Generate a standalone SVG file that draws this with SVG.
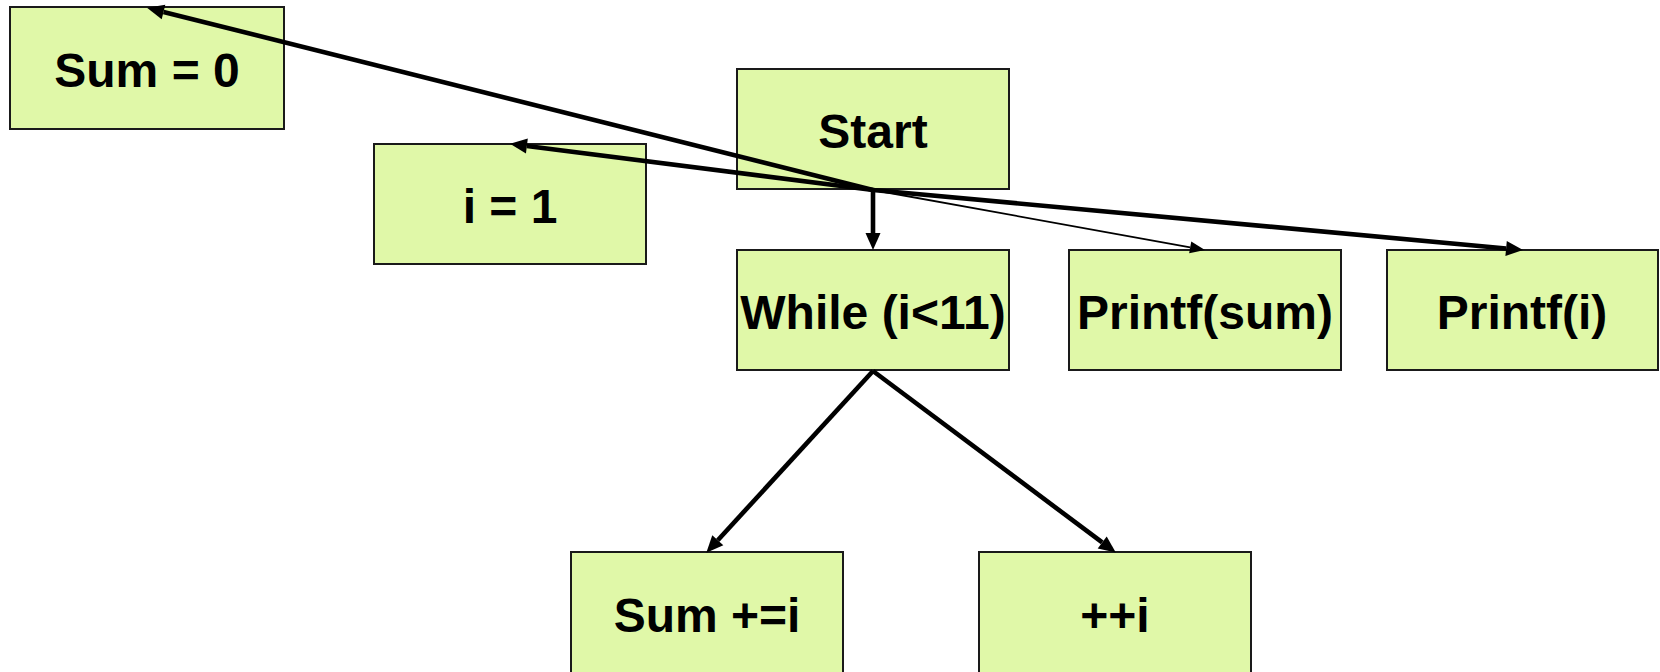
<svg xmlns="http://www.w3.org/2000/svg" width="1660" height="672" viewBox="0 0 1660 672">
<style>
.box{fill:#E0F8A8;stroke:#1a1a1a;stroke-width:2}
.lbl{font-family:"Liberation Sans",Arial,sans-serif;font-weight:bold;font-size:48px;fill:#000;text-anchor:middle}
.thick{stroke:#000;stroke-width:4.6;fill:none;marker-end:url(#ah)}
.thin{stroke:#000;stroke-width:1.8;fill:none;marker-end:url(#ahs)}
</style>
<defs>
<marker id="ah" markerUnits="userSpaceOnUse" markerWidth="17" markerHeight="15" refX="0" refY="7.5" orient="auto" overflow="visible">
<path d="M0,0 L17,7.5 L0,15 z" fill="#000"/>
</marker>
<marker id="ahs" markerUnits="userSpaceOnUse" markerWidth="15" markerHeight="12" refX="0" refY="6" orient="auto" overflow="visible">
<path d="M0,0 L15,6 L0,12 z" fill="#000"/>
</marker>
</defs>
<g id="n-sum0"><rect class="box" x="10" y="7" width="274" height="122"/><text class="lbl" x="147" y="87">Sum = 0</text></g>
<g id="n-i1"><rect class="box" x="374" y="144" width="272" height="120"/><text class="lbl" x="510" y="223">i = 1</text></g>
<g id="n-start"><rect class="box" x="737" y="69" width="272" height="120"/><text class="lbl" x="873" y="148">Start</text></g>
<g id="n-while"><rect class="box" x="737" y="250" width="272" height="120"/><text class="lbl" x="873" y="329">While (i&lt;11)</text></g>
<g id="n-printfsum"><rect class="box" x="1069" y="250" width="272" height="120"/><text class="lbl" x="1205" y="329">Printf(sum)</text></g>
<g id="n-printfi"><rect class="box" x="1387" y="250" width="271" height="120"/><text class="lbl" x="1522" y="329">Printf(i)</text></g>
<g id="n-sumplus"><rect class="box" x="571" y="552" width="272" height="122"/><text class="lbl" x="707" y="632">Sum +=i</text></g>
<g id="n-plusi"><rect class="box" x="979" y="552" width="272" height="122"/><text class="lbl" x="1115" y="632">++i</text></g>
<g id="connectors">
<line class="thick" x1="873" y1="190" x2="163.5" y2="11.9"/>
<line class="thick" x1="873" y1="190" x2="526.9" y2="146"/>
<line class="thick" x1="873" y1="189" x2="873" y2="233"/>
<line class="thin" x1="873" y1="190" x2="1190.2" y2="247.3"/>
<line class="thick" x1="873" y1="190" x2="1506.1" y2="248.5"/>
<line class="thick" x1="873" y1="371" x2="717.8" y2="540.2"/>
<line class="thick" x1="873" y1="371" x2="1102.2" y2="542.4"/>
</g>
</svg>
